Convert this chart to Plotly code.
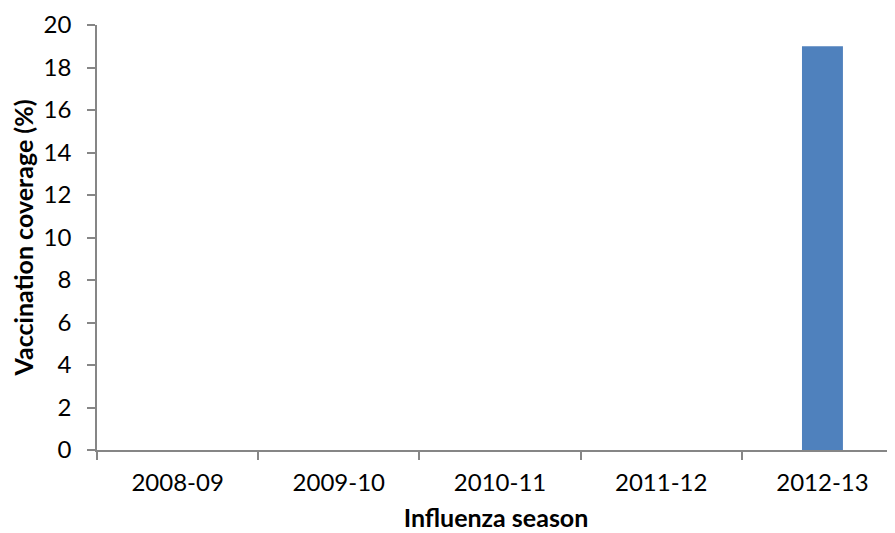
import plotly.graph_objects as go

seasons = ["2008-09", "2009-10", "2010-11", "2011-12", "2012-13"]
coverage = [0, 0, 0, 0, 19]
y_ticks = [0, 2, 4, 6, 8, 10, 12, 14, 16, 18, 20]

FONT = "Lato"
AXIS_COLOR = "#868686"

fig = go.Figure(
    go.Bar(
        x=seasons,
        y=coverage,
        marker=dict(color="#4F81BD", line=dict(width=0)),
        width=0.254,
    )
)

fig.update_layout(
    width=895,
    height=533,
    margin=dict(l=89, r=8, t=17, b=91),
    paper_bgcolor="white",
    plot_bgcolor="white",
    showlegend=False,
    font=dict(family=FONT, size=24, color="black"),
)

fig.update_xaxes(
    type="category",
    range=[-0.5, 4.45],
    automargin=False,
    showline=True,
    linecolor=AXIS_COLOR,
    linewidth=1.5,
    ticks="outside",
    tickson="boundaries",
    ticklen=8,
    tickwidth=1.5,
    tickcolor=AXIS_COLOR,
    showgrid=False,
    zeroline=False,
    ticklabelstandoff=10,
    tickfont=dict(family=FONT, size=24, color="black"),
    title=dict(
        text="<b>Influenza season</b>",
        font=dict(family=FONT, size=25, color="black"),
        standoff=15,
    ),
)

fig.update_yaxes(
    range=[0, 20],
    tickvals=y_ticks,
    automargin=False,
    showline=True,
    linecolor=AXIS_COLOR,
    linewidth=1.5,
    ticks="outside",
    ticklen=8,
    tickwidth=1.5,
    tickcolor=AXIS_COLOR,
    showgrid=False,
    zeroline=False,
    ticklabelstandoff=11,
    tickfont=dict(family=FONT, size=24, color="black"),
    title=dict(
        text="<b>Vaccination coverage (%)</b>",
        font=dict(family=FONT, size=25, color="black"),
        standoff=10,
    ),
)

fig.write_html("out.html")
